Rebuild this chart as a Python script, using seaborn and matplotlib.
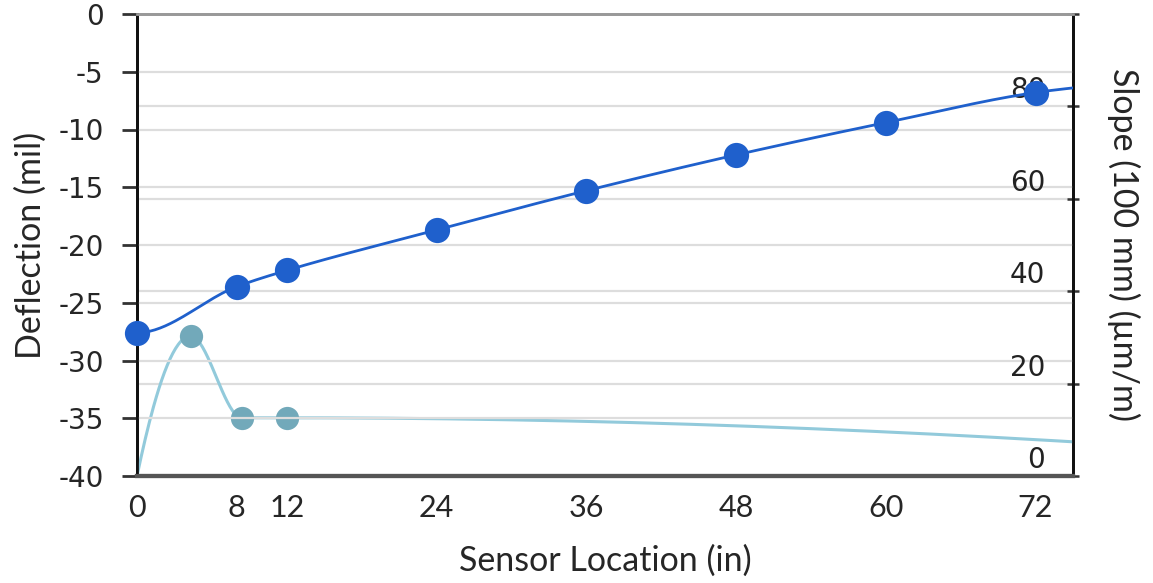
import matplotlib
matplotlib.use('Agg')
import matplotlib.pyplot as plt
import seaborn as sns
import numpy as np

# data
sensor_in = [0, 8, 12, 24, 36, 48, 60, 72]
deflection_mil = [-27.6, -23.6, -22.2, -18.7, -15.3, -12.2, -9.4, -6.8]
deflection_edge = -6.4          # where the line leaves the plot at x = 75

slope_in = [4.3, 8.4, 12.0]
slope_um = [30.3, 12.6, 12.6]
slope_start = 0.0               # line start at x = 0
slope_edge = 7.4                # where the line leaves the plot at x = 75

x_ticks = [0, 8, 12, 24, 36, 48, 60, 72]
x_max = 75
defl_ticks = [0, -5, -10, -15, -20, -25, -30, -35, -40]
slope_ticks = [0, 20, 40, 60, 80, 100]
slope_labels = ['0', '20', '40', '60', '80', '']
slope_max = 100


def smooth(x, y, n=40, flat_start=False):
    # monotone cubic (pchip style) just for drawing a smoothed line
    x = np.asarray(x, float)
    y = np.asarray(y, float)
    h = np.diff(x)
    d = np.diff(y) / h
    m = np.zeros_like(y)
    for i in range(1, len(y) - 1):
        if d[i - 1] * d[i] > 0:
            w1 = 2 * h[i] + h[i - 1]
            w2 = h[i] + 2 * h[i - 1]
            m[i] = (w1 + w2) / (w1 / d[i - 1] + w2 / d[i])
    m[0] = ((2 * h[0] + h[1]) * d[0] - h[0] * d[1]) / (h[0] + h[1])
    if flat_start:
        m[0] = 0.0
    m[-1] = ((2 * h[-1] + h[-2]) * d[-1] - h[-1] * d[-2]) / (h[-1] + h[-2])
    xs, ys = [], []
    for i in range(len(h)):
        t = np.linspace(0, 1, n)
        h00 = 2 * t**3 - 3 * t**2 + 1
        h10 = t**3 - 2 * t**2 + t
        h01 = -2 * t**3 + 3 * t**2
        h11 = t**3 - t**2
        xs.append(x[i] + t * h[i])
        ys.append(h00 * y[i] + h10 * h[i] * m[i] + h01 * y[i + 1] + h11 * h[i] * m[i + 1])
    return np.concatenate(xs), np.concatenate(ys)


sns.set_style('white')
plt.rcParams['font.family'] = ['DejaVu Sans']

fig = plt.figure(figsize=(11.53, 5.83), dpi=100)
ax = fig.add_axes([137 / 1153, 1 - 476 / 583, (1073 - 137) / 1153, (476 - 14) / 583])
ax2 = ax.twinx()

defl_col = '#1f60cc'
slope_mark = '#72a9ba'
slope_line = '#92cadb'

# deflection series
lx, ly = smooth(sensor_in + [x_max], deflection_mil + [deflection_edge], flat_start=True)
sns.lineplot(x=lx, y=ly, ax=ax, sort=False, estimator=None, color=defl_col, lw=2, zorder=4)
sns.scatterplot(x=sensor_in, y=deflection_mil, ax=ax, color=defl_col, s=330,
                edgecolor=defl_col, linewidth=0, zorder=5, clip_on=False)

# slope series
sx, sy = smooth([0] + slope_in + [x_max], [slope_start] + slope_um + [slope_edge])
sns.lineplot(x=sx, y=sy, ax=ax2, sort=False, estimator=None, color=slope_line, lw=2.2, zorder=4)
sns.scatterplot(x=slope_in, y=slope_um, ax=ax2, color=slope_mark, s=280,
                linewidth=0, zorder=5)

ax.set_xlim(0, x_max)
ax.set_ylim(-40, 0)
ax2.set_ylim(0, slope_max)
ax.set_zorder(ax2.get_zorder() + 1)
ax.patch.set_visible(False)

ax.set_xticks(x_ticks)
ax.set_xticklabels([str(v) for v in x_ticks], family='Lato', fontsize=22)
ax.set_yticks(defl_ticks)
ax.set_yticklabels([str(v) for v in defl_ticks], fontsize=20)
ax.tick_params(axis='x', length=0, pad=13)
ax.tick_params(axis='y', length=11, width=2, color='#333333', pad=13, direction='out')

ax2.set_yticks(slope_ticks)
ax2.set_yticklabels([])
ax2.tick_params(axis='y', length=9, width=1.8, color='#333333', direction='inout')
# slope labels sit inside the plot, a bit above their ticks
for v, lab in zip(slope_ticks, slope_labels):
    ax.annotate(lab, xy=(1, v / slope_max), xycoords='axes fraction', xytext=(-28, 16),
                textcoords='offset pixels', ha='right', va='center', fontsize=20,
                color='#222222', zorder=3)

# grid lines for both axes
ax.yaxis.grid(True, color='#dddddd', lw=1.6, zorder=0)
ax2.yaxis.grid(True, color='#dddddd', lw=1.6, zorder=0)
ax.xaxis.grid(False)
ax2.xaxis.grid(False)
ax.set_axisbelow(True)

for a in (ax, ax2):
    a.spines['top'].set_color('#999999')
    a.spines['top'].set_linewidth(2)
    a.spines['bottom'].set_color('#555555')
    a.spines['bottom'].set_linewidth(3)
    a.spines['left'].set_color('#111111')
    a.spines['left'].set_linewidth(2)
    a.spines['right'].set_color('#111111')
    a.spines['right'].set_linewidth(2)

ax.set_xlabel('Sensor Location (in)', family='Lato', fontsize=24.5, labelpad=16)
ax.set_ylabel('Deflection (mil)', family='Lato', fontsize=24.5, labelpad=8)
ax2.set_ylabel('Slope (100 mm) (µm/m)', family='Lato', fontsize=24.5, rotation=270,
               labelpad=40)

fig.savefig('out.png', dpi=100)
plt.close(fig)
